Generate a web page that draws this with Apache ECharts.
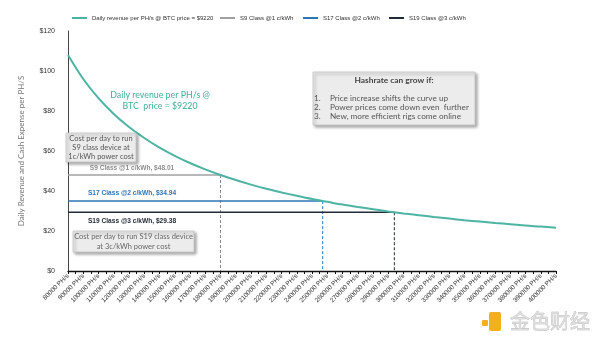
<!DOCTYPE html>
<html>
<head>
<meta charset="utf-8">
<script src="https://cdn.jsdelivr.net/npm/echarts@6/dist/echarts.min.js"></script>
<style>
html,body{margin:0;padding:0;background:#fff;}
#chart{width:600px;height:341px;}
</style>
</head>
<body>
<div id="chart"></div>
<script>
// ---- data ----
const hashrates = [80000,90000,100000,110000,120000,130000,140000,150000,160000,170000,180000,190000,200000,210000,220000,230000,240000,250000,260000,270000,280000,290000,300000,310000,320000,330000,340000,350000,360000,370000,380000,390000,400000];
const revenue = [108,96,86.4,78.5,72,66.5,61.7,57.6,54,50.8,48,45.5,43.2,41.1,39.3,37.6,36,34.6,33.2,32,30.9,29.8,28.8,27.9,27,26.2,25.4,24.7,24,23.4,22.7,22.2,21.6];
const revenueName = 'Daily revenue per PH/s @ BTC price = $9220';
const costNames = ['S9 Class @1 c/kWh','S17 Class @2 c/kWh','S19 Class @3 c/kWh'];
const costValues = [48.01, 34.94, 29.38];
const breakevenHashrates = [180000, 247000, 294000];
const yTicks = [0,20,40,60,80,100,120];
const unitLabel = ' PH/s';

const colors = {rev:'#4db3a2', s9:'#a0a0a0', s17:'#2e75b6', s19:'#222b38'};
const costColors = [colors.s9, colors.s17, colors.s19];

const chart = echarts.init(document.getElementById('chart'), null, {renderer:'canvas'});

const series = [{
  name: revenueName, type:'line', smooth:0.3, symbol:'none',
  data: hashrates.map((h,i)=>[h, revenue[i]]),
  lineStyle:{color:colors.rev, width:2}, itemStyle:{color:colors.rev}, z:5
}];
costNames.forEach((n,i)=>{
  series.push({
    name:n, type:'line', symbol:'none',
    data:[[hashrates[0], costValues[i]],[breakevenHashrates[i], costValues[i]]],
    lineStyle:{color:costColors[i], width:1.5}, itemStyle:{color:costColors[i]}, z:3
  });
  series.push({
    name:n+' breakeven', type:'line', symbol:'none',
    data:[[breakevenHashrates[i], costValues[i]],[breakevenHashrates[i], 0]],
    lineStyle:{color:costColors[i]==colors.s9?'#888':costColors[i], width:1, type:[3,2]}, z:3
  });
});

const sansNarrow = 'Liberation Sans, Arial, sans-serif';
const legendFont = {fontFamily:sansNarrow, fontSize:6, color:'#333'};
const legendLefts = [72, 220, 303, 389];
const legendNames = [revenueName].concat(costNames);
const legendColors = [colors.rev].concat(costColors);
const legends = legendNames.map((n,i)=>({
  data:[{name:n, itemStyle:{color:legendColors[i]}}], left:legendLefts[i], top:15,
  icon:'rect', itemWidth:15, itemHeight:2, itemGap:2, textStyle:legendFont, padding:0
}));

const boxStyle = {fill:'#ececec', stroke:'#c4c4c4', lineWidth:0.8, shadowBlur:3, shadowOffsetX:2, shadowOffsetY:2, shadowColor:'rgba(0,0,0,0.35)'};
const noteFont = 'Lato, Open Sans, sans-serif';

const graphic = [
  {type:'text', x:160, y:95, style:{text:'Daily revenue per PH/s @', fill:colors.rev, font:'500 8.8px '+noteFont, textAlign:'center', textVerticalAlign:'middle'}},
  {type:'text', x:160, y:106, style:{text:'BTC  price = $9220', fill:colors.rev, font:'500 8.8px '+noteFont, textAlign:'center', textVerticalAlign:'middle'}},
  {type:'rect', shape:{x:66, y:133, width:70, height:29}, style:boxStyle, z:10},
  {type:'text', x:101, y:147.5, z:11, style:{text:'Cost per day to run\nS9 class device at\n1c/kWh power cost', fill:'#555', font:'7.5px '+noteFont, textAlign:'center', textVerticalAlign:'middle', lineHeight:9}},
  {type:'text', x:132, y:168, style:{text:'S9 Class @1 c/kWh, $48.01', fill:'#909090', font:'bold 6.6px '+sansNarrow, textAlign:'center', textVerticalAlign:'middle'}},
  {type:'text', x:132, y:193, style:{text:'S17 Class @2 c/kWh, $34.94', fill:colors.s17, font:'bold 6.6px '+sansNarrow, textAlign:'center', textVerticalAlign:'middle'}},
  {type:'text', x:132, y:221, style:{text:'S19 Class @3 c/kWh, $29.38', fill:colors.s19, font:'bold 6.6px '+sansNarrow, textAlign:'center', textVerticalAlign:'middle'}},
  {type:'rect', shape:{x:73, y:231, width:121, height:21}, style:boxStyle, z:10},
  {type:'text', x:133.5, y:241.5, z:11, style:{text:'Cost per day to run S19 class device\nat 3c/kWh power cost', fill:'#666', font:'7.5px '+noteFont, textAlign:'center', textVerticalAlign:'middle', lineHeight:10}},
  {type:'rect', shape:{x:313, y:72, width:162, height:53}, style:boxStyle, z:10},
  {type:'text', x:394, y:80, z:11, style:{text:'Hashrate can grow if:', fill:'#444', font:'bold 8.4px '+noteFont, textAlign:'center', textVerticalAlign:'middle'}},
  {type:'text', x:314, y:107.5, z:11, style:{text:'1.\n2.\n3.', fill:'#555', font:'8.2px '+noteFont, textVerticalAlign:'middle', lineHeight:8.7}},
  {type:'text', x:330, y:107.5, z:11, style:{text:'Price increase shifts the curve up\nPower prices come down even  further\nNew, more efficient rigs come online', fill:'#555', font:'8.2px '+noteFont, textVerticalAlign:'middle', lineHeight:8.7}},
  // watermark
  {type:'rect', shape:{x:489, y:312, width:12, height:19, r:2}, style:{fill:'#f2b01e'}},
  {type:'rect', shape:{x:482, y:320, width:6, height:6, r:1}, style:{fill:'#f2b01e'}},
  {type:'text', x:510, y:321, style:{text:'金色财经', fill:'#dcdcdc', stroke:'#b8b8b8', lineWidth:0.6, font:'20px Noto Sans CJK SC', textVerticalAlign:'middle'}}
];

chart.setOption({
  animation:false,
  legend: legends,
  grid:{left:68, right:44, top:31, bottom:70, containLabel:false},
  xAxis:{
    type:'value', min:hashrates[0], max:hashrates[hashrates.length-1], interval:10000,
    axisLine:{show:true, onZero:false, lineStyle:{color:'#111', width:1.3}},
    axisTick:{show:true, length:3, lineStyle:{color:'#111'}},
    minorTick:{show:true, splitNumber:2, length:3, lineStyle:{color:'#111'}},
    splitLine:{show:false},
    axisLabel:{rotate:45, fontSize:6.5, fontFamily:sansNarrow, color:'#333', margin:4, formatter:v=>v+unitLabel, showMinLabel:true, showMaxLabel:true}
  },
  yAxis:{
    type:'value', min:yTicks[0], max:yTicks[yTicks.length-1], interval:20,
    name:'Daily Revenue and Cash Expense per PH/S', nameLocation:'middle', nameGap:43,
    nameTextStyle:{fontFamily:noteFont, fontSize:8, color:'#777'},
    axisLine:{show:true, lineStyle:{color:'#444', width:1}},
    axisTick:{show:false}, splitLine:{show:false},
    axisLabel:{fontSize:7, fontFamily:sansNarrow, color:'#333', margin:13, formatter:v=>'$'+v}
  },
  graphic: graphic,
  series: series
});
</script>
</body>
</html>
